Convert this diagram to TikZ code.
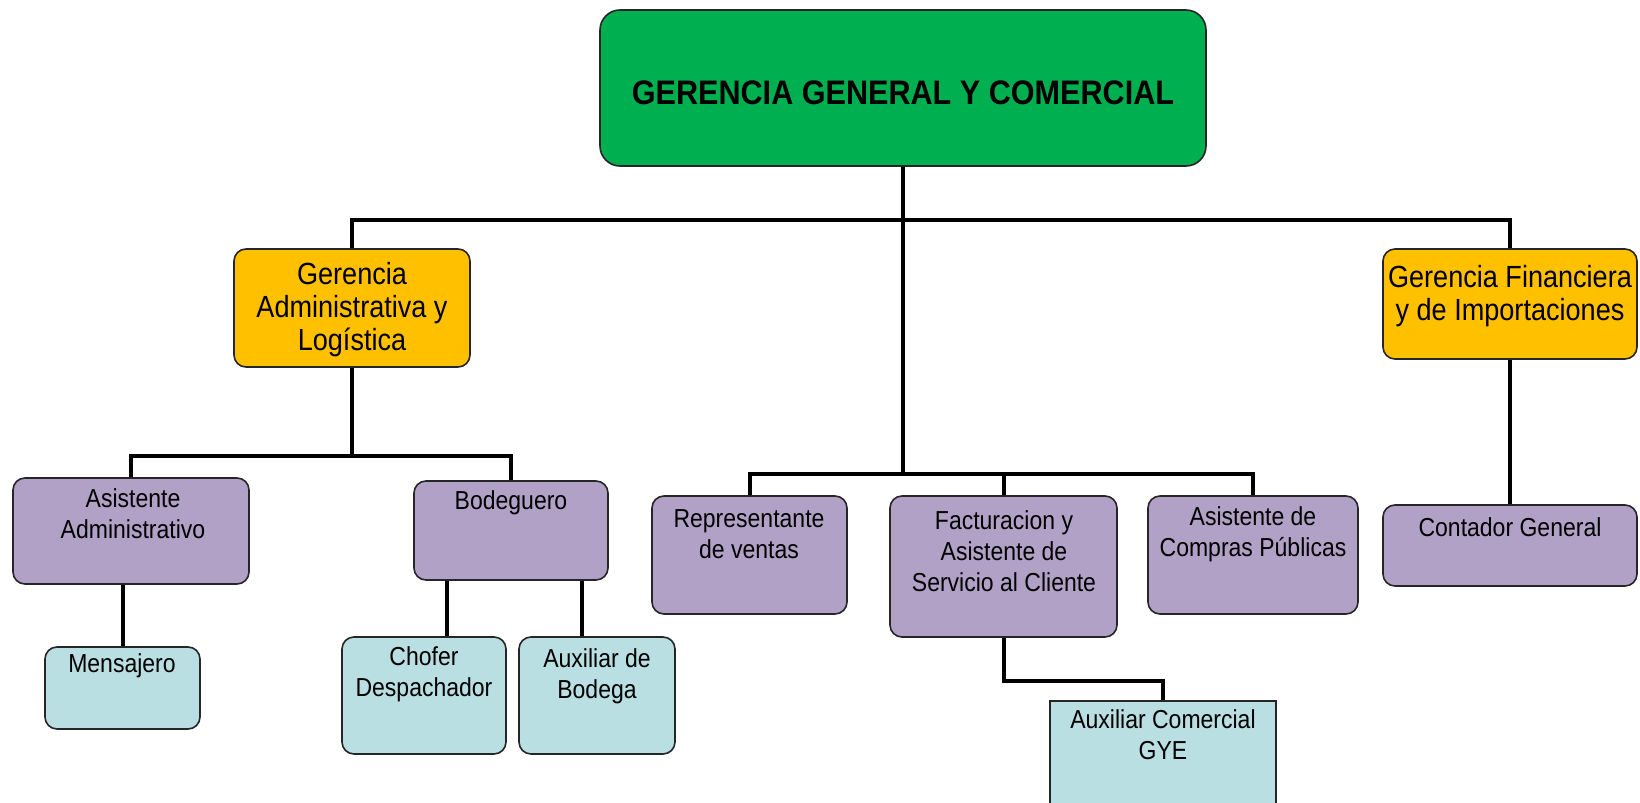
\documentclass[tikz,border=0pt]{standalone}
\usepackage{fontspec}
\setmainfont{Liberation Sans}
\newfontfamily\labfont[FakeStretch=0.885]{Liberation Sans}
\newfontfamily\titfont[FakeStretch=0.9]{Liberation Sans}
\definecolor{cgreen}{HTML}{00AF50}
\definecolor{cgold}{HTML}{FFC000}
\definecolor{clilac}{HTML}{B2A1C7}
\definecolor{ccyan}{HTML}{B9DFE3}
\begin{document}
\begin{tikzpicture}[x=0.5pt,y=-0.5pt,
  box/.style={draw=black!85, line width=0.8pt, rounded corners=6pt, inner sep=0pt, shape=rectangle},
  gbox/.style={box, fill=cgreen, rounded corners=10pt},
  obox/.style={box, fill=cgold},
  pbox/.style={box, fill=clilac},
  cbox/.style={box, fill=ccyan},
  txt/.style={align=center, inner sep=0pt, font=\labfont\fontsize{13}{15.5}\selectfont},
  otxt/.style={align=center, inner sep=0pt, font=\labfont\fontsize{15.3}{16.5}\selectfont},
  ttl/.style={align=center, inner sep=0pt, font=\titfont\bfseries\fontsize{17}{20}\selectfont},
  link/.style={line width=2pt, draw=black}]
\useasboundingbox (0,0) rectangle (1640,803);
\clip (0,0) rectangle (1640,803);

% boxes
\node[gbox, minimum width=303pt, minimum height=78pt] (top) at (903,88) {};
\node[obox, minimum width=118pt, minimum height=59pt] (adm) at (352,308) {};
\node[obox, minimum width=127pt, minimum height=55pt] (fin) at (1510,304) {};
\node[pbox, minimum width=118pt, minimum height=53pt] (asis) at (131,531) {};
\node[pbox, minimum width=97pt, minimum height=49.5pt] (bod) at (511,530.5) {};
\node[cbox, minimum width=77.5pt, minimum height=41pt] (mens) at (122.5,688) {};
\node[cbox, minimum width=82pt, minimum height=58.5pt] (chof) at (424,695.5) {};
\node[cbox, minimum width=78pt, minimum height=58.5pt] (auxb) at (597,695.5) {};
\node[pbox, minimum width=97.5pt, minimum height=59pt] (rep) at (749.5,555) {};
\node[pbox, minimum width=113.5pt, minimum height=70.5pt] (fac) at (1003.5,566.5) {};
\node[pbox, minimum width=105pt, minimum height=59pt] (comp) at (1253,555) {};
\node[pbox, minimum width=127pt, minimum height=40.5pt] (cont) at (1510,545.5) {};
\node[box, rounded corners=0pt, fill=ccyan, minimum width=113pt, minimum height=60pt] (auxc) at (1163,761) {};

% texts
\node[ttl] (ttop) at (903,93) {GERENCIA GENERAL Y COMERCIAL};
\node[otxt] (tadm) at (352,310) {Gerencia\\Administrativa y\\Logística};
\node[otxt] (tfin) at (1510,296) {Gerencia Financiera\\y de Importaciones};
\node[txt] (tasis) at (133,514) {Asistente\\Administrativo};
\node[txt] (tbod) at (511,503) {Bodeguero};
\node[txt] (tmens) at (122,666) {Mensajero};
\node[txt] (tchof) at (424,674) {Chofer\\Despachador};
\node[txt] (tauxb) at (597,676) {Auxiliar de\\Bodega};
\node[txt] (trep) at (749,534) {Representante\\de ventas};
\node[txt] (tfac) at (1004,551) {Facturacion y\\Asistente de\\Servicio al Cliente};
\node[txt] (tcomp) at (1253,534) {Asistente de\\Compras Públicas};
\node[txt] (tcont) at (1510,527) {Contador General};
\node[txt] (tauxc) at (1163,735) {Auxiliar Comercial\\GYE};

% helper coordinates
\coordinate (h1) at (903,220);
\coordinate (h2) at (903,474);
\coordinate (h3) at (352,456);
\coordinate (h4) at (1004,681);
\coordinate (c0) at (123,0);
\coordinate (c1) at (447,0);
\coordinate (c2) at (582,0);

% connectors
\draw[link] (top.south) -- (top.south |- h2);
\draw[link] (adm.north) -- (adm.north |- h1) -- (fin.north |- h1) -- (fin.north);
\draw[link] (rep.north) -- (rep.north |- h2) -- (comp.north |- h2) -- (comp.north);
\draw[link] (fac.north) -- (fac.north |- h2);
\draw[link] (adm.south) -- (adm.south |- h3);
\draw[link] (asis.north) -- (asis.north |- h3) -- (bod.north |- h3) -- (bod.north);
\draw[link] (asis.south -| c0) -- (mens.north -| c0);
\draw[link] (bod.south -| c1) -- (chof.north -| c1);
\draw[link] (bod.south -| c2) -- (auxb.north -| c2);
\draw[link] (fin.south) -- (cont.north);
\draw[link] (fac.south) -- (fac.south |- h4) -- (auxc.north |- h4) -- (auxc.north);
\end{tikzpicture}
\end{document}
